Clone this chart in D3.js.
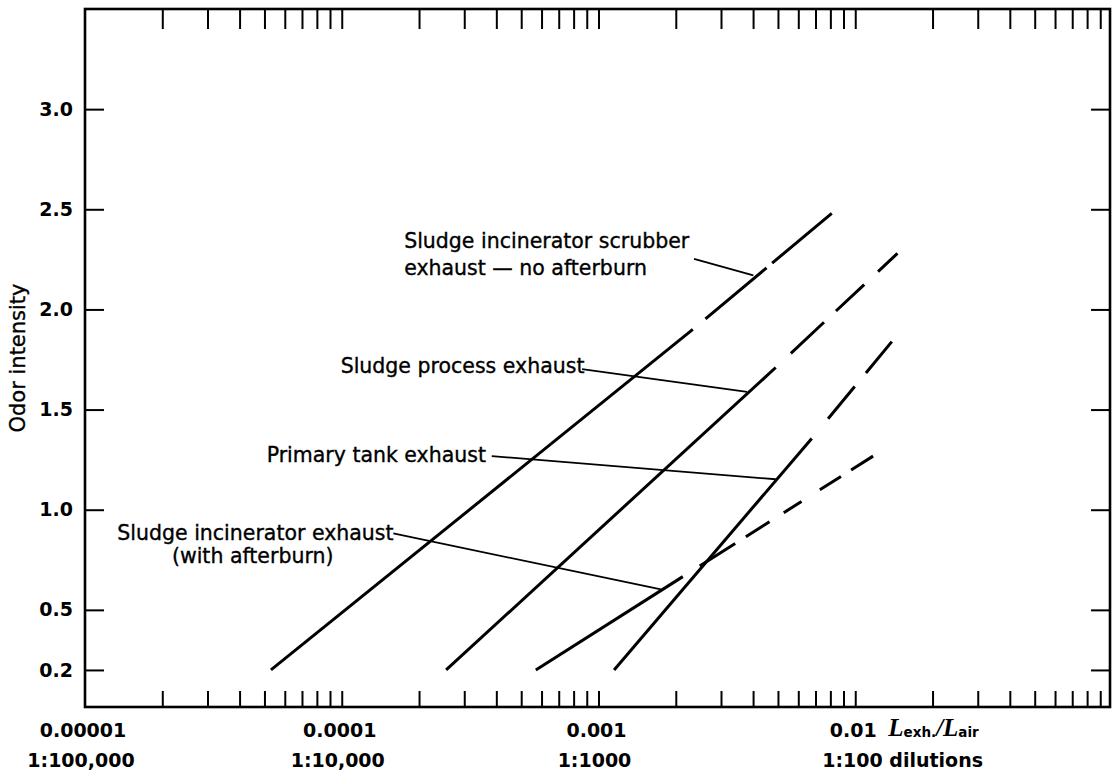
<!DOCTYPE html>
<html>
<head>
<meta charset="utf-8">
<script src="https://cdn.jsdelivr.net/npm/d3@7"></script>
<style>
  html, body { margin: 0; padding: 0; background: #fff; }
  svg { display: block; }
</style>
</head>
<body>
<svg id="chart" width="1112" height="776"></svg>
<script>
// ---------- data ----------
const xDecades = [1e-5, 1e-4, 1e-3, 1e-2];
const xLabelsTop = ["0.00001", "0.0001", "0.001", "0.01"];
const xLabelsBottom = ["1:100,000", "1:10,000", "1:1000", "1:100 dilutions"];
const yTicks = [0.2, 0.5, 1.0, 1.5, 2.0, 2.5, 3.0];

// series: [dilution ratio, odor intensity]; measured part (solid) and extrapolated part (dashed)
const scrubberSolid   = [[5.3e-5, 0.2], [2.33e-3, 1.90]];
const scrubberDashed  = [[2.33e-3, 1.90], [8.1e-3, 2.48]];
const processSolid    = [[2.55e-4, 0.2], [4.9e-3, 1.71]];
const processDashed   = [[4.9e-3, 1.71], [1.46e-2, 2.28]];
const primarySolid    = [[1.15e-3, 0.2], [6.77e-3, 1.356]];
const primaryDashed   = [[6.77e-3, 1.356], [1.39e-2, 1.84]];
const afterburnSolid  = [[5.7e-4, 0.2], [2.13e-3, 0.666]];
const afterburnDashed = [[2.13e-3, 0.666], [1.175e-2, 1.268]];

// annotation labels: text lines, anchor [x, y] in data units
const labelScrubber  = { lines: ["Sludge incinerator scrubber", "exhaust \u2014 no afterburn"], at: [1.75e-4, 2.307] };
const labelProcess   = { lines: ["Sludge process exhaust"], at: [9.9e-5, 1.683] };
const labelPrimary   = { lines: ["Primary tank exhaust"], at: [5.1e-5, 1.240] };
const labelAfterburn = { lines: ["Sludge incinerator exhaust"], at: [1.336e-5, 0.849] };
const labelAfterburn2 = { lines: ["(with afterburn)"], at: [2.18e-5, 0.735] };

// leader lines: from label to curve, in data units
const leaderScrubber  = [[2.355e-3, 2.252], [4.01e-3, 2.170]];
const leaderProcess   = [[8.63e-4, 1.702], [3.79e-3, 1.588]];
const leaderPrimary   = [[3.84e-4, 1.268], [4.90e-3, 1.152]];
const leaderAfterburn = [[1.588e-4, 0.882], [1.751e-3, 0.602]];

// ---------- layout ----------
const frame = { left: 85, right: 1110, top: 9, bottom: 707 };
const svg = d3.select("#chart");

const x = d3.scaleLog().domain([1e-5, 0.1]).range([85, 1112]);
const y = d3.scaleLinear().domain([0, 3.5]).range([710, 9]);

const FONT = "'DejaVu Sans', Verdana, sans-serif";

// frame
svg.append("rect")
  .attr("x", frame.left).attr("y", frame.top)
  .attr("width", frame.right - frame.left).attr("height", frame.bottom - frame.top)
  .attr("fill", "none").attr("stroke", "#000").attr("stroke-width", 2.6);

// minor/major x ticks via log scale ticks
const xTickVals = x.ticks().filter(d => d > 1.01e-5 && x(d) < frame.right - 2);

function styleAxis(g) {
  g.select(".domain").remove();
  g.selectAll(".tick line").attr("stroke", "#000").attr("stroke-width", 2);
}

svg.append("g").attr("transform", `translate(0,${frame.bottom})`)
  .call(d3.axisBottom(x).tickValues(xTickVals).tickSize(-16).tickFormat(""))
  .call(styleAxis);
svg.append("g").attr("transform", `translate(0,${frame.top})`)
  .call(d3.axisTop(x).tickValues(xTickVals).tickSize(-20).tickFormat(""))
  .call(styleAxis);

// y ticks
const yLeft = svg.append("g").attr("transform", `translate(${frame.left},0)`)
  .call(d3.axisLeft(y).tickValues(yTicks).tickSize(-19).tickPadding(12).tickFormat(d3.format(".1f")))
  .call(styleAxis);
yLeft.selectAll("text")
  .attr("font-family", FONT).attr("font-size", 19).attr("font-weight", "bold").attr("fill", "#000");
svg.append("g").attr("transform", `translate(${frame.right},0)`)
  .call(d3.axisRight(y).tickValues(yTicks).tickSize(-19).tickFormat(""))
  .call(styleAxis);

// x labels
const xl = svg.append("g").attr("font-family", FONT).attr("font-weight", "bold").attr("font-size", 19).attr("fill", "#000");
xDecades.forEach((d, i) => {
  xl.append("text").attr("x", x(d) - 2).attr("y", 737).attr("text-anchor", "middle").text(xLabelsTop[i]);
  const last = i === xDecades.length - 1;
  xl.append("text")
    .attr("x", last ? x(d) - 33 : x(d) - 4)
    .attr("y", 767)
    .attr("text-anchor", last ? "start" : "middle")
    .text(xLabelsBottom[i]);
});
// L_exh./L_air
const lt = svg.append("text").attr("x", x(1e-2) + 33).attr("y", 736).attr("fill", "#000");
lt.append("tspan").attr("font-family", "'Liberation Serif', serif").attr("font-style", "italic").attr("font-weight", "bold").attr("font-size", 25).text("L");
lt.append("tspan").attr("font-family", FONT).attr("font-weight", "bold").attr("font-size", 13.5).attr("dy", 1).text("exh.");
lt.append("tspan").attr("font-family", "'Liberation Serif', serif").attr("font-style", "italic").attr("font-weight", "bold").attr("font-size", 25).attr("dy", -1).text("/L");
lt.append("tspan").attr("font-family", FONT).attr("font-weight", "bold").attr("font-size", 13.5).attr("dy", 1).text("air");

// y title
svg.append("text")
  .attr("transform", `translate(25,${(frame.top + frame.bottom) / 2}) rotate(-90)`)
  .attr("text-anchor", "middle")
  .attr("font-family", FONT).attr("font-size", 21).attr("fill", "#000")
  .attr("stroke", "#000").attr("stroke-width", 0.35)
  .text("Odor intensity");

// lines
const line = d3.line().x(d => x(d[0])).y(d => y(d[1]));
const solidSeries = [scrubberSolid, processSolid, primarySolid, afterburnSolid];
svg.append("g").selectAll("path").data(solidSeries).join("path")
  .attr("d", line).attr("fill", "none").attr("stroke", "#000").attr("stroke-width", 3);

const dashedSeries = [
  { pts: scrubberDashed,  dash: "0 16.5 79.6 7.3 78 60" },
  { pts: processDashed,   dash: "0 20.8 45.4 16.4 38.7 19 27 60" },
  { pts: primaryDashed,   dash: "0 25.6 41.8 17.6 40.6 60" },
  { pts: afterburnDashed, dash: "0 20 42 12.6 28 16.9 21 21.7 25 12 26 60" }
];
svg.append("g").selectAll("path").data(dashedSeries).join("path")
  .attr("d", d => line(d.pts)).attr("fill", "none").attr("stroke", "#000")
  .attr("stroke-width", 3).attr("stroke-dasharray", d => d.dash);

// leaders
svg.append("g").selectAll("path")
  .data([leaderScrubber, leaderProcess, leaderPrimary, leaderAfterburn]).join("path")
  .attr("d", line).attr("fill", "none").attr("stroke", "#000").attr("stroke-width", 1.8);

// annotation labels
const ann = svg.append("g").attr("font-family", FONT).attr("font-size", 20.5).attr("fill", "#000")
  .attr("stroke", "#000").attr("stroke-width", 0.35);
[labelScrubber, labelProcess, labelPrimary, labelAfterburn, labelAfterburn2].forEach(l => {
  const t = ann.append("text").attr("x", x(l.at[0])).attr("y", y(l.at[1]));
  l.lines.forEach((s, i) => {
    t.append("tspan").attr("x", x(l.at[0])).attr("dy", i === 0 ? 0 : 27).text(s);
  });
});
</script>
</body>
</html>
